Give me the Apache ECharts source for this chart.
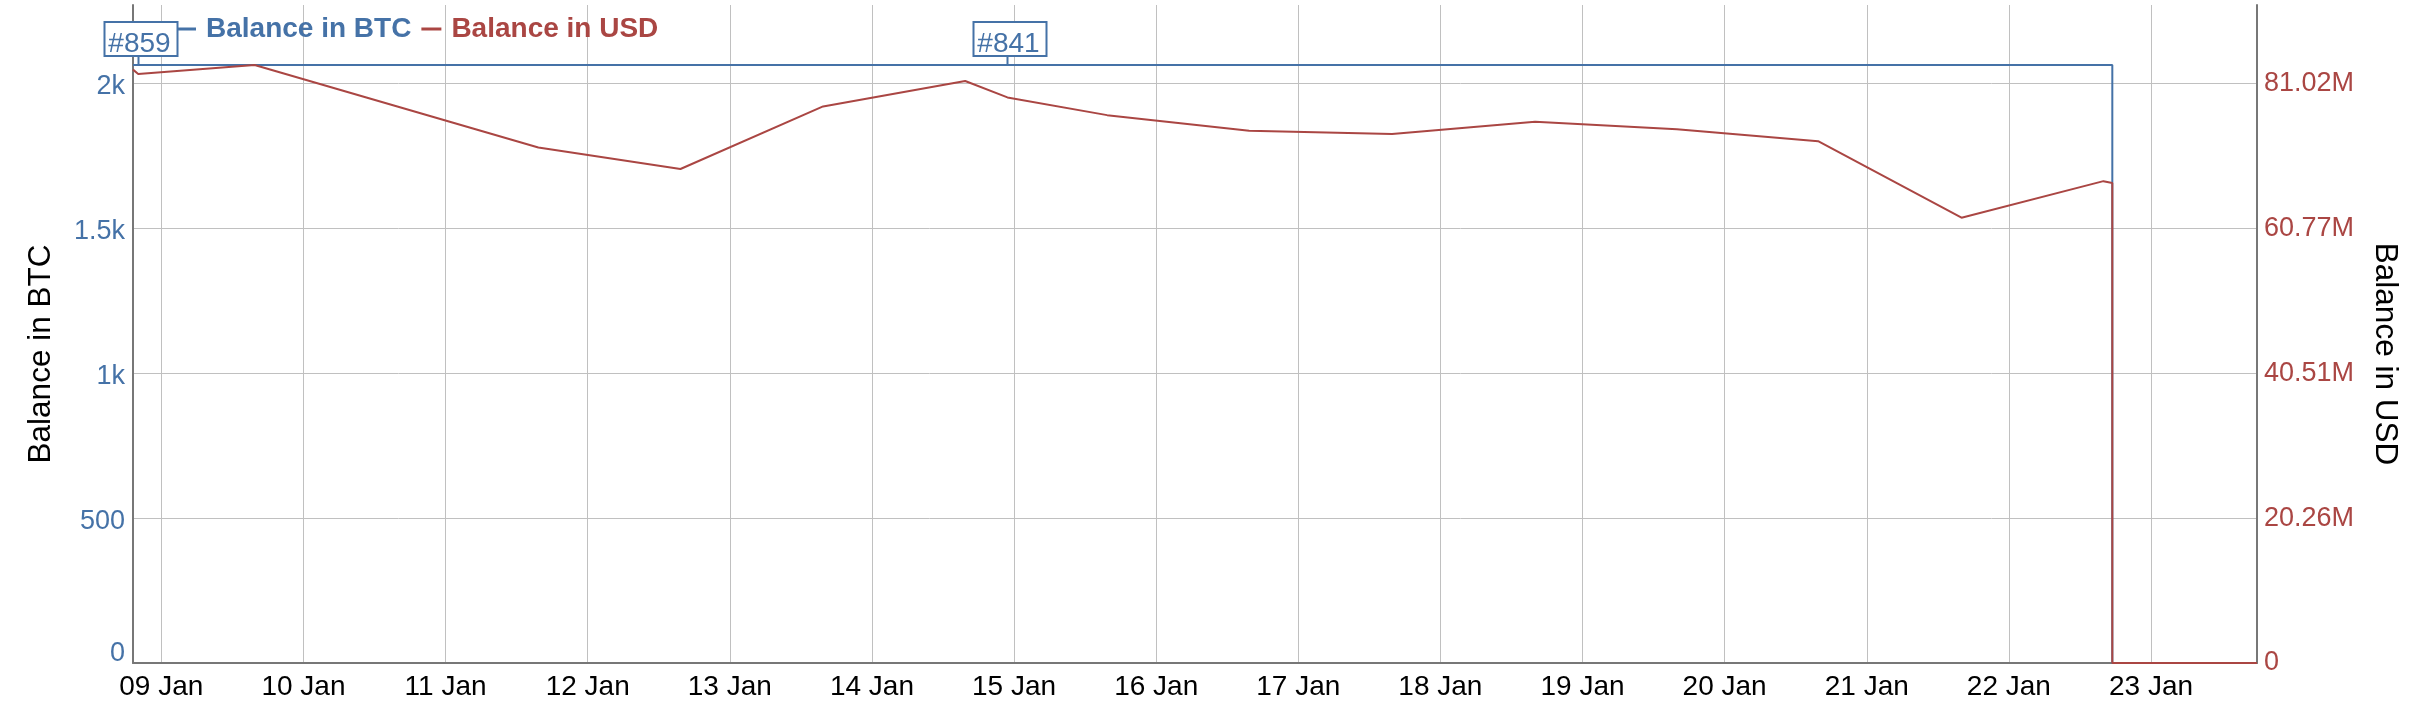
<!DOCTYPE html>
<html>
<head>
<meta charset="utf-8">
<script src="https://cdn.jsdelivr.net/npm/echarts@6/dist/echarts.min.js"></script>
<style>
html,body{margin:0;padding:0;background:#fff;}
#chart{width:2412px;height:702px;}
</style>
</head>
<body>
<div id="chart"></div>
<script>
// ---- data ----
const btcTimes = ['2022-01-08T19:13', '2022-01-22T17:28', '2022-01-22T17:28', '2022-01-23T17:54'];
const btcValues = [2064, 2064, 0, 0];

const usdTimes = [
  '2022-01-08T19:13', '2022-01-08T20:06', '2022-01-09T15:45', '2022-01-11T15:40',
  '2022-01-12T15:40', '2022-01-13T15:45', '2022-01-14T15:45', '2022-01-14T22:53',
  '2022-01-15T15:43', '2022-01-16T15:42', '2022-01-17T15:50', '2022-01-18T15:59',
  '2022-01-19T15:56', '2022-01-20T15:47', '2022-01-21T16:00', '2022-01-22T15:58',
  '2022-01-22T17:28', '2022-01-22T17:28', '2022-01-23T17:54'
];
const usdValues = [
  82960000, 82360000, 83610000, 72070000,
  69070000, 77820000, 81380000, 79080000,
  76600000, 74420000, 73970000, 75670000,
  74620000, 72960000, 62260000, 67370000,
  67120000, 0, 0
];

const flagTimes = ['2022-01-08T20:06', '2022-01-14T22:53'];
const flagValues = [2064, 2064];
const flagLabels = ['#859', '#841'];

const leftTickLabels = ['0', '500', '1k', '1.5k', '2k'];
const rightTickLabels = ['0', '20.26M', '40.51M', '60.77M', '81.02M'];

const xMinTime = '2022-01-08T19:13';
const xMaxTime = '2022-01-23T17:54';
const leftMax = 2271;
const leftInterval = 500;
const usdPerUnit = 40510;          // 81.02M at 2k
const rightInterval = 20255000;

// ---- helpers ----
const ts = s => Date.parse(s + ':00Z');
const BLUE = '#4572A7';
const RED = '#AA4643';
const FONT = 'Liberation Sans';

const chart = echarts.init(document.getElementById('chart'), null, {renderer: 'canvas'});

const option = {
  useUTC: true,
  animation: false,
  backgroundColor: '#fff',
  textStyle: {fontFamily: FONT},
  grid: {left: 133, right: 155, top: 5, bottom: 39, containLabel: false},
  legend: {
    left: 176, top: 15, padding: 0,
    itemWidth: 20, itemHeight: 3, itemGap: 10,
    icon: 'rect',
    data: [
      {name: 'Balance in BTC', textStyle: {color: BLUE}},
      {name: 'Balance in USD', textStyle: {color: RED}}
    ],
    textStyle: {fontSize: 28, fontWeight: 'bold', fontFamily: FONT, padding: [0, 0, 0, 5]},
    selectedMode: false
  },
  xAxis: {
    type: 'time',
    min: ts(xMinTime), max: ts(xMaxTime),
    minInterval: 86400000, maxInterval: 86400000,
    axisLine: {lineStyle: {color: '#777', width: 2}},
    axisTick: {show: false},
    axisLabel: {
      formatter: '{dd} {MMM}', color: '#000', fontSize: 28, fontFamily: FONT, margin: 10,
      showMinLabel: false, showMaxLabel: false, hideOverlap: false
    },
    splitLine: {show: true, showMinLine: false, showMaxLine: false, lineStyle: {color: '#C0C0C0', width: 1}}
  },
  yAxis: [
    {
      type: 'value', min: 0, max: leftMax, interval: leftInterval,
      name: 'Balance in BTC', nameLocation: 'middle', nameRotate: 90, nameGap: 76,
      nameTextStyle: {fontSize: 31.5, color: '#000', fontFamily: FONT, padding: [0, 40, 0, 0]},
      axisLine: {show: true, lineStyle: {color: '#777', width: 2}},
      axisTick: {show: false},
      axisLabel: {
        color: BLUE, fontSize: 27, fontFamily: FONT, margin: 8, showMaxLabel: false,
        formatter: v => {
          const i = Math.round(v / leftInterval);
          const t = leftTickLabels[i] ?? '';
          return i === 0 ? '{z|' + t + '}' : '{a|' + t + '}';
        },
        rich: {
          a: {color: BLUE, fontSize: 27, fontFamily: FONT, padding: [6, 0, 0, 0]},
          z: {color: BLUE, fontSize: 27, fontFamily: FONT, padding: [0, 0, 18, 0]}
        }
      },
      splitLine: {show: true, showMaxLine: false, lineStyle: {color: '#C0C0C0', width: 1}}
    },
    {
      type: 'value', position: 'right', min: 0, max: leftMax * usdPerUnit, interval: rightInterval,
      name: 'Balance in USD', nameLocation: 'middle', nameRotate: -90, nameGap: 112,
      nameTextStyle: {fontSize: 31.5, color: '#000', fontFamily: FONT, padding: [0, 0, 0, 40]},
      axisLine: {show: true, lineStyle: {color: '#777', width: 2}},
      axisTick: {show: false},
      axisLabel: {
        color: RED, fontSize: 27, fontFamily: FONT, margin: 7, showMaxLabel: false,
        padding: [8, 0, 0, 0],
        formatter: v => rightTickLabels[Math.round(v / rightInterval)] ?? ''
      },
      splitLine: {show: false}
    }
  ],
  series: [
    {
      name: 'Balance in BTC', type: 'line', yAxisIndex: 0,
      data: btcTimes.map((t, i) => [ts(t), btcValues[i]]),
      showSymbol: false, symbol: 'none',
      lineStyle: {color: BLUE, width: 2}, itemStyle: {color: BLUE},
      z: 2
    },
    {
      name: 'Balance in USD', type: 'line', yAxisIndex: 1,
      data: usdTimes.map((t, i) => [ts(t), usdValues[i]]),
      showSymbol: false, symbol: 'none',
      lineStyle: {color: RED, width: 2}, itemStyle: {color: RED},
      z: 3
    },
    {
      name: 'flags', type: 'custom', yAxisIndex: 0, z: 5,
      data: flagTimes.map((t, i) => [ts(t), flagValues[i], i]),
      renderItem: (params, api) => {
        const p = api.coord([api.value(0), api.value(1)]);
        const x = Math.round(p[0]) + 0.5, y = p[1];
        const label = flagLabels[api.value(2)];
        return {
          type: 'group',
          children: [
            {type: 'line', shape: {x1: x, y1: y, x2: x, y2: y - 9}, style: {stroke: BLUE, lineWidth: 2}},
            {type: 'rect', shape: {x: x - 34, y: y - 43, width: 73, height: 34},
             style: {fill: '#fff', stroke: BLUE, lineWidth: 2}},
            {type: 'text', style: {text: label, x: x + 1, y: y - 21, align: 'center', verticalAlign: 'middle',
             font: '28px "Liberation Sans"', fill: BLUE}}
          ]
        };
      }
    }
  ]
};
chart.setOption(option);
</script>
</body>
</html>
